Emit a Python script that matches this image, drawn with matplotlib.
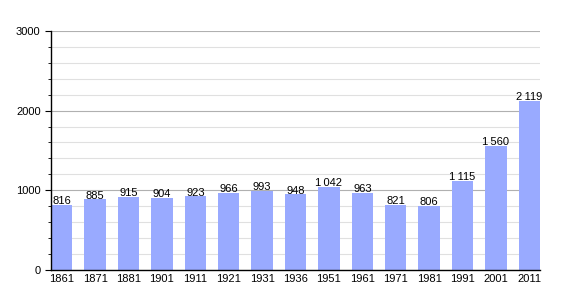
import matplotlib
matplotlib.use("Agg")
import matplotlib.pyplot as plt
from matplotlib.ticker import MultipleLocator

plt.rcParams['font.family'] = ['Liberation Sans', 'DejaVu Sans']

years = ["1861", "1871", "1881", "1901", "1911", "1921", "1931", "1936",
         "1951", "1961", "1971", "1981", "1991", "2001", "2011"]
population = [816, 885, 915, 904, 923, 966, 993, 948,
              1042, 963, 821, 806, 1115, 1560, 2119]

fig = plt.figure(figsize=(5.7, 3.0), dpi=100)
ax = fig.add_axes([0.0895, 0.1, 0.858, 0.797])

x = range(len(years))
bar_w = 0.64
ax.bar(x, population, width=bar_w, color="#99aaff", zorder=2)

for i, v in enumerate(population):
    label = "{:,}".format(v).replace(",", "\u2009")
    ax.text(i, v - 15, label, ha="center", va="bottom", fontsize=8, zorder=3)

ax.set_xlim(-bar_w / 2, len(years) - 1 + bar_w / 2)
ax.set_ylim(0, 3000)
ax.set_xticks(list(x))
ax.set_xticklabels(years)
ax.yaxis.set_major_locator(MultipleLocator(1000))
ax.yaxis.set_minor_locator(MultipleLocator(200))
ax.grid(axis="y", which="major", color="#b0b0b0", linewidth=0.8, zorder=0)
ax.grid(axis="y", which="minor", color="#e0e0e0", linewidth=0.8, zorder=0)

for side in ["top", "right"]:
    ax.spines[side].set_visible(False)
ax.spines["left"].set_linewidth(1)
ax.spines["bottom"].set_linewidth(1)
ax.tick_params(axis="x", length=0, labelsize=8, pad=3)
ax.tick_params(axis="y", which="major", length=4, labelsize=8)
ax.tick_params(axis="y", which="minor", length=2)

fig.savefig("out.png", dpi=100)
